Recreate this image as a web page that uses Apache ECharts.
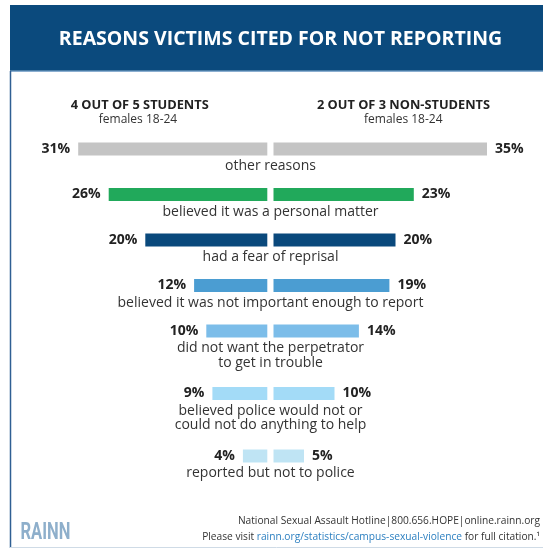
<!DOCTYPE html>
<html>
<head>
<meta charset="utf-8">
<script src="https://cdn.jsdelivr.net/npm/echarts@6/dist/echarts.min.js"></script>
<style>
html,body{margin:0;padding:0;background:#fff;}
#chart{width:543px;height:549px;}
</style>
</head>
<body>
<div id="chart"></div>
<script>
// ---- data ----
var categories = [
  'other reasons',
  'believed it was a personal matter',
  'had a fear of reprisal',
  'believed it was not important enough to report',
  'did not want the perpetrator\nto get in trouble',
  'believed police would not or\ncould not do anything to help',
  'reported but not to police'
];
var students = [31, 26, 20, 12, 10, 9, 4];
var nonStudents = [35, 23, 20, 19, 14, 10, 5];
var rowColors = ['#c4c4c4', '#21a95b', '#0a497c', '#4b9dd2', '#7cbde9', '#a3dbf7', '#bfe4f4'];
var titleText = 'REASONS VICTIMS CITED FOR NOT REPORTING';
var groupTitles = ['4 OUT OF 5 STUDENTS', '2 OUT OF 3 NON-STUDENTS'];
var groupSubtitles = ['females 18-24', 'females 18-24'];

// ---- layout ----
var FONT = '"Open Sans", "Noto Sans", sans-serif';
var firstCenter = 149;
var basePitch = 45.5, extraLinePitch = 17;
var barH = 13;
var axisMax = 40;
var halfW = 244;
var leftEnd = 267.3, rightStart = 273.5;
var labelX = 270.5;

var grids = [], xAxes = [], yAxes = [], series = [], graphics = [];
var c = firstCenter;
categories.forEach(function (name, i) {
  var lines = name.split('\n').length;
  // left (students)
  grids.push({left: leftEnd - halfW, top: c - barH / 2, width: halfW, height: barH});
  xAxes.push({type: 'value', gridIndex: 2 * i, min: 0, max: axisMax, inverse: true, show: false});
  yAxes.push({type: 'category', gridIndex: 2 * i, data: [name], show: false});
  series.push({
    type: 'bar', xAxisIndex: 2 * i, yAxisIndex: 2 * i, data: [students[i]],
    barWidth: barH, itemStyle: {color: rowColors[i]}, silent: true,
    label: {show: true, position: 'left', distance: 8, formatter: '{c}%',
      fontFamily: FONT, fontWeight: 'bold', fontSize: 14, color: '#222'}
  });
  // right (non-students)
  grids.push({left: rightStart, top: c - barH / 2, width: halfW, height: barH});
  xAxes.push({type: 'value', gridIndex: 2 * i + 1, min: 0, max: axisMax, show: false});
  yAxes.push({type: 'category', gridIndex: 2 * i + 1, data: [name], show: false});
  series.push({
    type: 'bar', xAxisIndex: 2 * i + 1, yAxisIndex: 2 * i + 1, data: [nonStudents[i]],
    barWidth: barH, itemStyle: {color: rowColors[i]}, silent: true,
    label: {show: true, position: 'right', distance: 8, formatter: '{c}%',
      fontFamily: FONT, fontWeight: 'bold', fontSize: 14, color: '#222'}
  });
  // category label under the bars
  graphics.push({
    type: 'text', silent: true,
    style: {text: name, x: labelX, y: c + 17.5 - 7.5, textAlign: 'center', textVerticalAlign: 'top',
      font: '14px ' + FONT, lineHeight: 14.5, fill: '#333'}
  });
  c += basePitch + extraLinePitch * (lines - 1);
});

// frame, header, group titles, footer
graphics.unshift(
  {type: 'rect', silent: true, shape: {x: 10, y: 5, width: 533, height: 66}, style: {fill: '#0b4a7d'}},
  {type: 'rect', silent: true, shape: {x: 10, y: 70.5, width: 533, height: 1.5}, style: {fill: '#8aaed0'}},
  {type: 'line', silent: true, shape: {x1: 10.5, y1: 71, x2: 10.5, y2: 548}, style: {stroke: '#2f5f93', lineWidth: 1.5}},
  {type: 'line', silent: true, shape: {x1: 10, y1: 547.5, x2: 543, y2: 547.5}, style: {stroke: '#cfdbe6', lineWidth: 1}},
  {type: 'text', silent: true, style: {text: titleText, x: 280.5, y: 39, textAlign: 'center', textVerticalAlign: 'middle',
    font: 'bold 19.5px ' + FONT, fill: '#ffffff'}},
  {type: 'text', silent: true, style: {text: groupTitles[0], x: 139.7, y: 105, textAlign: 'center', textVerticalAlign: 'middle',
    font: 'bold 12.8px ' + FONT, fill: '#222'}},
  {type: 'text', silent: true, style: {text: groupSubtitles[0], x: 138, y: 119.3, textAlign: 'center', textVerticalAlign: 'middle',
    font: '12px ' + FONT, fill: '#333'}},
  {type: 'text', silent: true, style: {text: groupTitles[1], x: 403.5, y: 105, textAlign: 'center', textVerticalAlign: 'middle',
    font: 'bold 12.8px ' + FONT, fill: '#222'}},
  {type: 'text', silent: true, style: {text: groupSubtitles[1], x: 403.3, y: 119.3, textAlign: 'center', textVerticalAlign: 'middle',
    font: '12px ' + FONT, fill: '#333'}},
  {type: 'text', silent: true, x: 20.5, y: 533.5, scaleX: 0.72,
    style: {text: 'RAINN', x: 0, y: 0, textAlign: 'left', textVerticalAlign: 'middle',
    font: 'bold 23px Roboto, "Liberation Sans", sans-serif', fill: '#8eafcb'}},
  {type: 'text', silent: true, style: {text: 'National Sexual Assault Hotline|800.656.HOPE|online.rainn.org',
    x: 540, y: 521, textAlign: 'right', textVerticalAlign: 'middle', font: '10.2px ' + FONT, fill: '#333'}},
  {type: 'text', silent: true, style: {
    text: 'Please visit {a|rainn.org/statistics/campus-sexual-violence} for full citation.\u00b9',
    x: 540, y: 537, textAlign: 'right', textVerticalAlign: 'middle', font: '10.2px ' + FONT, fill: '#333',
    rich: {a: {fill: '#2b7fc0', font: '10.2px ' + FONT}}}}
);

var chart = echarts.init(document.getElementById('chart'), null, {renderer: 'canvas'});
chart.setOption({
  animation: false,
  backgroundColor: '#ffffff',
  grid: grids,
  xAxis: xAxes,
  yAxis: yAxes,
  series: series,
  graphic: {elements: graphics}
});
</script>
</body>
</html>
